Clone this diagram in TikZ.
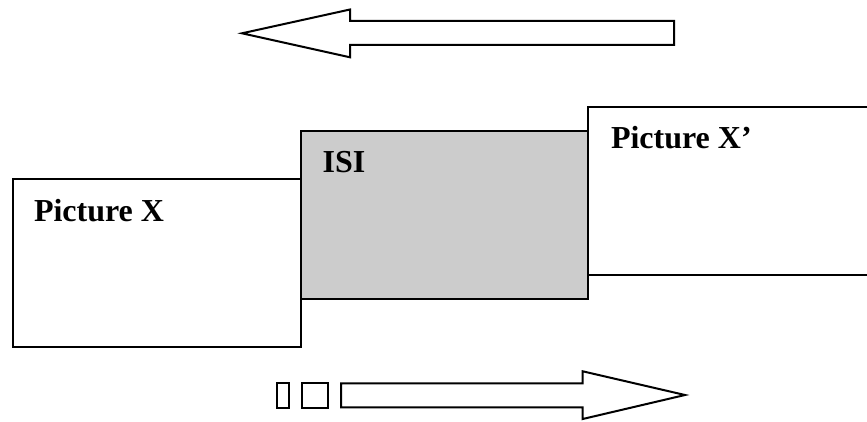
\documentclass[tikz,border=0pt]{standalone}
\usepackage{fontspec}
\setmainfont{Liberation Serif}
\definecolor{isigray}{RGB}{204,204,204}
\begin{document}
\begin{tikzpicture}[x=1pt,y=-1pt,line width=2pt,line join=miter,
  box/.style={draw=black,line width=2pt,inner sep=0pt,outer sep=0pt},
  lbl/.style={anchor=base west,inner sep=0pt,font=\fontsize{32}{36}\selectfont\bfseries},
  arrowshape/.style={draw=black,line width=2pt,fill=white}]
\useasboundingbox (0,0) rectangle (867,422);
% ISI box
\node[box,fill=isigray,minimum width=287.6pt,minimum height=167.7pt] (isi) at (444.5,215.2) {};
% Picture X box
\node[box,fill=white,minimum width=288.3pt,minimum height=168pt] (px) at (156.85,263.3) {};
% Picture X' box (open to the right)
\coordinate (pxa) at (867,106.7);
\coordinate (pxb) at (588.3,106.7);
\coordinate (pxc) at (588.3,275);
\coordinate (pxd) at (867,275);
\draw[line width=2pt] (pxa) -- (pxb) -- (pxc) -- (pxd);
% labels
\node[lbl] (tx) at (33,221.7) {Picture X};
\node[lbl] (tisi) at (321.7,172.7) {ISI};
\node[lbl] (txp) at (610,149) {Picture X’};
% top arrow (pointing left)
\draw[arrowshape] (242,33.3) -- (350,9.5) -- (350,21) -- (674,21) -- (674,45) -- (350,45) -- (350,57.3) -- cycle;
% bottom arrow (pointing right)
\draw[arrowshape] (341,383.3) -- (582.7,383.3) -- (582.7,371.3) -- (685,395) -- (582.7,419) -- (582.7,407.3) -- (341,407.3) -- cycle;
% small boxes
\node[box,minimum width=12pt,minimum height=25.6pt] (s1) at (282.7,395.5) {};
\node[box,minimum width=26.3pt,minimum height=25.6pt] (s2) at (315.2,395.5) {};
\end{tikzpicture}
\end{document}
